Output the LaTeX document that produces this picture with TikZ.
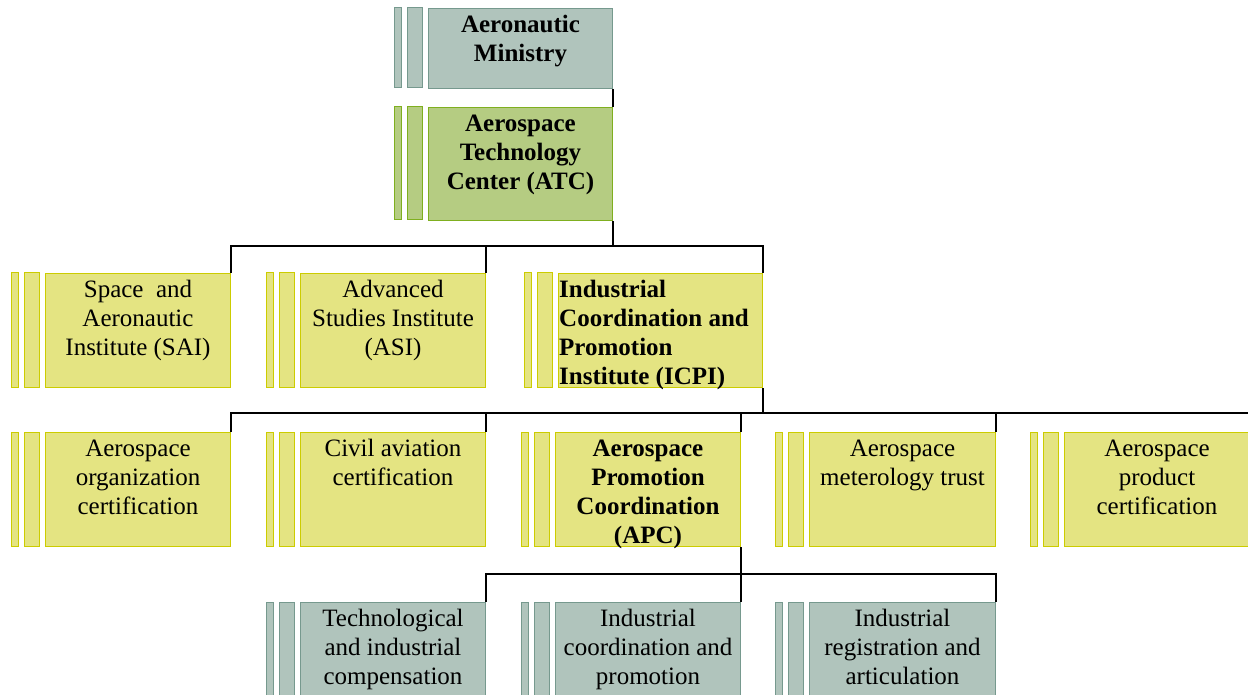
\documentclass[tikz,border=0pt]{standalone}
\usepackage{fontspec}
\setmainfont{Liberation Serif}
\usetikzlibrary{calc}

\definecolor{grayfill}{HTML}{B0C4BC}
\definecolor{grayline}{HTML}{76998E}
\definecolor{greenfill}{HTML}{B5CC82}
\definecolor{greenline}{HTML}{7FAF1F}
\definecolor{yelfill}{HTML}{E4E482}
\definecolor{yelline}{HTML}{CCCC00}

\tikzset{
  grayunit/.style={fill=grayfill, draw=grayline, line width=1pt},
  greenunit/.style={fill=greenfill, draw=greenline, line width=1pt},
  yelunit/.style={fill=yelfill, draw=yelline, line width=1pt},
  lbl/.style={inner sep=0pt, anchor=north, align=center,
              font=\fontsize{25}{29}\selectfont},
  lblbold/.style={lbl, font=\fontsize{25}{29}\selectfont\bfseries},
  lblleft/.style={lblbold, anchor=north west, align=left},
  conn/.style={draw=black, line width=1.1pt},
}

% #1 name, #2 style, #3 left of main box, #4 right of main box, #5 top, #6 bottom
\newcommand\orgunit[6]{%
  \path[#2] (#3-34,#5) rectangle (#3-27,#6);
  \path[#2] (#3-21,#5) rectangle (#3-6,#6);
  \node[#2, inner sep=0pt, anchor=north west,
        minimum width=#4-#3, minimum height=#6-#5] (#1) at (#3,#5) {};
}
\newcommand\lnstrut{\rule{0pt}{20pt}}

\begin{document}
\begin{tikzpicture}[x=1pt, y=-1pt]
  \clip (0,0) rectangle (1248,695);
  \fill[white] (0,0) rectangle (1248,695);

  % top level
  \orgunit{ministry}{grayunit}{428}{612}{8}{88}
  \orgunit{atc}{greenunit}{428}{612}{107}{220}

  % institutes
  \orgunit{sai}{yelunit}{45}{230}{273}{387}
  \orgunit{asi}{yelunit}{300}{485}{273}{387}
  \orgunit{icpi}{yelunit}{558}{762}{273}{387}

  % ICPI departments
  \orgunit{aoc}{yelunit}{45}{230}{432}{546}
  \orgunit{cac}{yelunit}{300}{485}{432}{546}
  \orgunit{apc}{yelunit}{555}{740}{432}{546}
  \orgunit{amt}{yelunit}{809}{995}{432}{546}
  \orgunit{apr}{yelunit}{1064}{1249}{432}{546}

  % APC departments
  \orgunit{tic}{grayunit}{300}{485}{602}{720}
  \orgunit{icp}{grayunit}{555}{740}{602}{720}
  \orgunit{ira}{grayunit}{809}{995}{602}{720}

  % labels
  \node[lblbold] (ministry-t) at ($(ministry.north)+(0,4.5)$) {\lnstrut Aeronautic\\Ministry};
  \node[lblbold] (atc-t) at ($(atc.north)+(0,4.5)$) {\lnstrut Aerospace\\Technology\\Center (ATC)};
  \node[lbl] (sai-t) at ($(sai.north)+(0,4.5)$) {\lnstrut Space\ \ and\\Aeronautic\\Institute (SAI)};
  \node[lbl] (asi-t) at ($(asi.north)+(0,4.5)$) {\lnstrut Advanced\\Studies Institute\\(ASI)};
  \node[lblleft] (icpi-t) at ($(icpi.north west)+(1,4.5)$) {\lnstrut Industrial\\Coordination and\\Promotion\\Institute (ICPI)};
  \node[lbl] (aoc-t) at ($(aoc.north)+(0,4.5)$) {\lnstrut Aerospace\\organization\\certification};
  \node[lbl] (cac-t) at ($(cac.north)+(0,4.5)$) {\lnstrut Civil aviation\\certification};
  \node[lblbold] (apc-t) at ($(apc.north)+(0,4.5)$) {\lnstrut Aerospace\\Promotion\\Coordination\\(APC)};
  \node[lbl] (amt-t) at ($(amt.north)+(0,4.5)$) {\lnstrut Aerospace\\meterology trust};
  \node[lbl] (apr-t) at ($(apr.north)+(0,4.5)$) {\lnstrut Aerospace\\product\\certification};
  \node[lbl] (tic-t) at ($(tic.north)+(0,4.5)$) {\lnstrut Technological\\and industrial\\compensation};
  \node[lbl] (icp-t) at ($(icp.north)+(0,4.5)$) {\lnstrut Industrial\\coordination and\\promotion};
  \node[lbl] (ira-t) at ($(ira.north)+(0,4.5)$) {\lnstrut Industrial\\registration and\\articulation};

  % bus lines
  \coordinate (busA) at (0,246);
  \coordinate (busB) at (0,413);
  \coordinate (busC) at (0,574);

  % connectors
  \draw[conn] (ministry.south east) -- (atc.north east);

  \draw[conn] (atc.south east) -- (atc.south east |- busA);
  \draw[conn] (sai.north east) |- (busA -| icpi.north east) -- (icpi.north east);
  \draw[conn] (asi.north east) -- (asi.north east |- busA);

  \draw[conn] (icpi.south east) -- (icpi.south east |- busB);
  \draw[conn] (aoc.north east) |- (busB -| apr.north east) -- (apr.north east);
  \draw[conn] (cac.north east) -- (cac.north east |- busB);
  \draw[conn] (apc.north east) -- (apc.north east |- busB);
  \draw[conn] (amt.north east) -- (amt.north east |- busB);

  \draw[conn] (apc.south east) -- (apc.south east |- busC);
  \draw[conn] (tic.north east) |- (busC -| ira.north east) -- (ira.north east);
  \draw[conn] (icp.north east) -- (icp.north east |- busC);
\end{tikzpicture}
\end{document}
